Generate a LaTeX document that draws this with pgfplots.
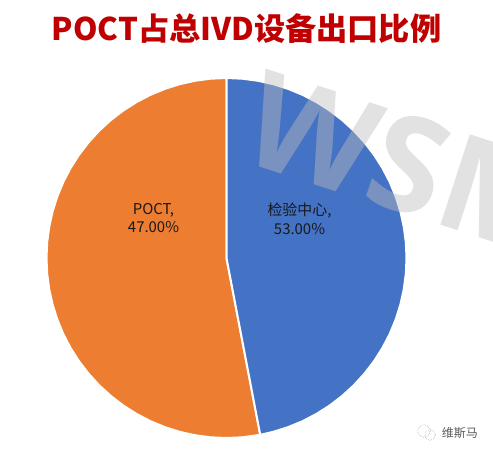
\documentclass[border=0pt]{standalone}
\usepackage{pgfplots}
\pgfplotsset{compat=1.18}
\usepackage{fontspec}
\setmainfont{Noto Sans CJK SC}
\newfontfamily\wmfont{Open Sans}
\definecolor{pblue}{HTML}{4472C4}
\definecolor{porange}{HTML}{ED7D31}
\definecolor{ptitle}{HTML}{C00000}
\definecolor{wm}{HTML}{BDBDBD}
\begin{document}
\begin{tikzpicture}
\clip (0,0) rectangle (369.75pt,341.25pt);
\begin{axis}[
  at={(0,0)},anchor=south west,
  width=369.75pt,height=341.25pt,scale only axis,
  hide axis,clip=false,
  xmin=-226.5,xmax=266.5,ymin=-197,ymax=258,
]
% orange slice (polar: angle, radius in px)
\addplot[data cs=polar,fill=porange,draw=white,line width=1.5pt,line join=round] coordinates {
(0,0) (-79.2,180) (-85,180) (-90,180) (-95,180) (-100,180) (-105,180) (-110,180) (-115,180) (-120,180) (-125,180) (-130,180) (-135,180) (-140,180) (-145,180) (-150,180) (-155,180) (-160,180) (-165,180) (-170,180) (-175,180) (-180,180) (-185,180) (-190,180) (-195,180) (-200,180) (-205,180) (-210,180) (-215,180) (-220,180) (-225,180) (-230,180) (-235,180) (-240,180) (-245,180) (-250,180) (-255,180) (-260,180) (-265,180) (-270,180) (0,0)
};
% blue slice
\addplot[data cs=polar,fill=pblue,draw=white,line width=1.5pt,line join=round] coordinates {
(0,0) (90,180) (85,180) (80,180) (75,180) (70,180) (65,180) (60,180) (55,180) (50,180) (45,180) (40,180) (35,180) (30,180) (25,180) (20,180) (15,180) (10,180) (5,180) (0,180) (-5,180) (-10,180) (-15,180) (-20,180) (-25,180) (-30,180) (-35,180) (-40,180) (-45,180) (-50,180) (-55,180) (-60,180) (-65,180) (-70,180) (-75,180) (-79.2,180) (0,0)
};
% labels
\node[align=center,font=\fontsize{11.2pt}{14pt}\selectfont,text=black!90] at (axis cs:-73,40) {POCT,\\47.00\%};
\node[align=center,font=\fontsize{11.2pt}{14pt}\selectfont,text=black!90] at (axis cs:73,39) {检验中心,\\53.00\%};
% watermark
\node[anchor=base west,rotate=-18,text=wm,opacity=0.44,inner sep=0pt,font=\wmfont\bfseries\fontsize{100pt}{100pt}\selectfont] at (axis cs:10,99) {WSM};
% title
\node[text=ptitle,inner sep=0pt,font=\bfseries\fontsize{23.4pt}{26pt}\selectfont] at (axis cs:20,229) {POCT占总IVD设备出口比例};
% footer mark
\draw[black!45,line width=0.4pt,densely dotted] (axis cs:197.5,-173) circle[radius=4.6pt];
\draw[black!45,line width=0.4pt,densely dotted] (axis cs:203.5,-177) circle[radius=4pt];
\node[anchor=west,inner sep=0pt,text=black!65,font=\fontsize{9pt}{10pt}\selectfont] at (axis cs:215,-175) {维斯马};
\end{axis}
\end{tikzpicture}
\end{document}
